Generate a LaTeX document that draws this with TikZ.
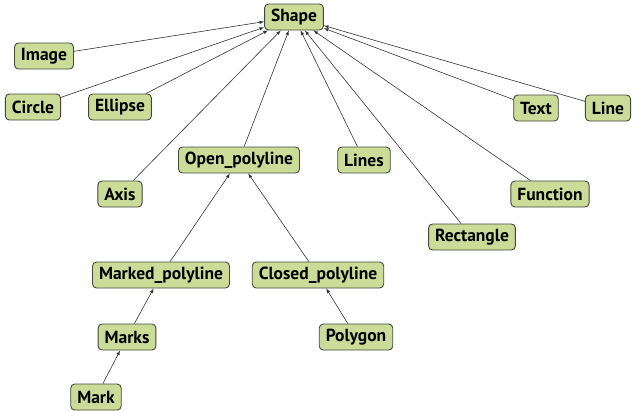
\documentclass[tikz,border=0pt]{standalone}
\usepackage{fontspec}
\setmainfont{PT Sans}
\usetikzlibrary{positioning, arrows}
\definecolor{boxgreen}{RGB}{202,220,152}
\definecolor{boxedge}{RGB}{70,70,60}

\begin{document}
\begin{tikzpicture}[x=1pt, y=1pt,
  cls/.style = {draw=boxedge, fill=boxgreen, rounded corners=4pt, line width=0.9pt,
                minimum height=26pt, inner xsep=6.5pt, inner ysep=2pt,
                font=\fontsize{17.5}{19}\selectfont\bfseries},
  isa/.style = {-latex, draw=black!80, line width=0.6pt} ]

\useasboundingbox (0,0) rectangle (634,-410);

%--- Nodes ---
% top
\node[cls] (shape) at (294, -17) {Shape};

% row 1
\node[cls] (image)   at (44,  -56)  {Image};
\node[cls] (circle)  at (33,  -107) {Circle};
\node[cls] (ellipse) at (120, -107) {Ellipse};
\node[cls] (text)    at (536, -108) {Text};
\node[cls] (line)    at (608, -108) {Line};

% row 2
\node[cls] (openpl) at (239, -160) {Open\_polyline};
\node[cls] (lines)  at (364, -160) {Lines};
\node[cls] (axis)   at (120, -194) {Axis};
\node[cls] (func)   at (550, -194) {Function};
\node[cls] (rect)   at (472, -237) {Rectangle};

% polylines
\node[cls] (markedpl) at (161, -275) {Marked\_polyline};
\node[cls] (closedpl) at (318, -275) {Closed\_polyline};
\node[cls] (marks)    at (127, -337) {Marks};
\node[cls] (polygon)  at (356, -337) {Polygon};
\node[cls] (mark)     at (96,  -397) {Mark};

%--- Edges to Shape ---
\foreach \c in {image, circle, ellipse, axis, openpl, lines, rect, func, text, line}
  \draw[isa] (\c) -- (shape);

%--- Polyline family ---
\draw[isa] (markedpl) -- (openpl);
\draw[isa] (closedpl) -- (openpl);
\draw[isa] (marks) -- (markedpl);
\draw[isa] (mark) -- (marks);
\draw[isa] (polygon) -- (closedpl);

\end{tikzpicture}
\end{document}
